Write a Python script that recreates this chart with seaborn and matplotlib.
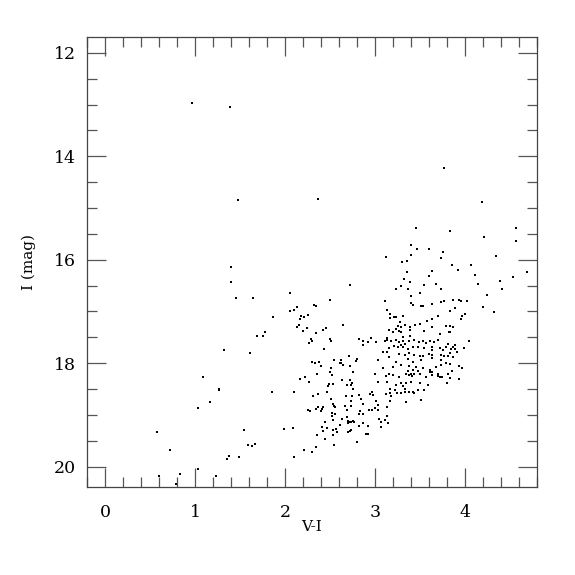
import numpy as np
import pandas as pd
import matplotlib
matplotlib.use('Agg')
import matplotlib.pyplot as plt
from matplotlib.ticker import MultipleLocator
import seaborn as sns

# %% Data: colour-magnitude points
# sparse stars (bright ones and the blue side)
sparse_vi = [0.96, 1.39, 1.48, 2.37, 1.40, 1.40, 1.46, 1.64, 1.87, 1.78, 1.69, 1.75,
             1.32, 1.61, 1.09, 1.26, 1.27, 1.85, 1.17, 1.03, 0.58, 1.54, 0.72, 1.59,
             1.63, 1.67, 1.35, 1.38, 1.49, 1.03, 0.60, 0.83, 1.23, 0.79]
sparse_i = [12.97, 13.05, 14.84, 14.83, 16.14, 16.43, 16.74, 16.74, 17.11, 17.40, 17.48, 17.48,
            17.75, 17.81, 18.27, 18.50, 18.52, 18.56, 18.76, 18.87, 19.34, 19.30, 19.68, 19.58,
            19.60, 19.56, 19.86, 19.79, 19.82, 20.04, 20.19, 20.15, 20.19, 20.33]

# middle clump, V-I ~ 2 - 3
mid_vi = [2.72, 2.06, 2.50, 2.13, 2.32, 2.34, 2.06, 2.10, 2.18, 2.21, 2.17, 2.25,
          2.15, 2.13, 2.24, 2.20, 2.64, 2.42, 2.46, 2.34, 2.29, 2.30, 2.27, 2.50,
          2.51, 2.43, 2.82, 2.87, 2.92, 2.87, 2.71, 2.62, 2.62, 2.54, 2.30, 2.33,
          2.38, 2.40, 2.80, 2.79, 2.61, 2.64, 2.72, 2.51, 2.36, 2.50, 2.52, 2.76,
          2.22, 2.17, 2.27, 2.63, 2.72, 2.75, 2.73, 2.69, 2.76, 2.49, 2.48, 2.53,
          2.10, 2.31, 2.37, 2.47, 2.68, 2.74, 2.82, 2.51, 2.84, 2.53, 2.54, 2.56,
          2.73, 2.73, 2.67, 2.87, 2.26, 2.28, 2.35, 2.37, 2.41, 2.40, 2.42, 2.69,
          2.93, 2.52, 2.52, 2.56, 2.83, 2.87, 2.82, 2.63, 2.53, 2.44, 2.69, 2.70,
          2.72, 2.70, 2.76, 2.77, 2.73, 2.61, 2.57, 2.53, 2.58, 2.53, 2.47, 2.41,
          2.42, 2.72, 2.70, 2.73, 2.82, 2.87, 2.92, 2.90, 2.36, 2.45, 1.99, 2.09,
          2.55, 2.80, 2.92, 2.35, 2.21, 2.30, 2.10]
mid_i = [16.49, 16.64, 16.77, 16.91, 16.87, 16.90, 16.99, 16.98, 17.09, 17.11, 17.15, 17.06,
         17.27, 17.31, 17.32, 17.38, 17.26, 17.35, 17.32, 17.42, 17.53, 17.57, 17.61, 17.53,
         17.57, 17.72, 17.53, 17.58, 17.60, 17.64, 17.86, 17.94, 17.99, 17.94, 17.97, 18.00,
         17.98, 18.05, 17.92, 17.96, 18.00, 18.04, 18.05, 18.09, 18.20, 18.18, 18.23, 18.17,
         18.27, 18.30, 18.37, 18.32, 18.32, 18.39, 18.43, 18.42, 18.49, 18.40, 18.45, 18.41,
         18.56, 18.63, 18.59, 18.56, 18.63, 18.63, 18.61, 18.69, 18.70, 18.79, 18.82, 18.85,
         18.74, 18.82, 18.83, 18.78, 18.91, 18.92, 18.89, 18.85, 18.88, 18.92, 18.85, 18.90,
         18.90, 18.97, 19.03, 18.98, 18.92, 18.99, 18.99, 19.07, 19.09, 19.14, 19.05, 19.11,
         19.14, 19.16, 19.11, 19.14, 19.14, 19.19, 19.27, 19.29, 19.34, 19.38, 19.25, 19.24,
         19.32, 19.32, 19.34, 19.29, 19.21, 19.16, 19.21, 19.37, 19.39, 19.46, 19.27, 19.25,
         19.59, 19.53, 19.36, 19.62, 19.68, 19.72, 19.82]

# red clump, V-I ~ 3 - 4.7 (upper part)
red_up_vi = [3.77, 4.19, 3.46, 3.84, 4.57, 4.21, 4.57, 3.40, 3.47, 3.60,
             4.35, 3.86, 4.07, 3.92, 4.11, 4.69, 4.54, 4.39, 4.15, 4.41, 4.25,
             3.87, 3.93, 3.96, 4.02, 4.20, 3.89, 3.84, 4.33, 4.00, 3.97, 3.96,
             3.84, 3.87, 3.83, 4.05, 3.89, 3.87, 3.85, 3.89, 3.99,
             3.83, 3.91, 3.87, 3.83, 3.93, 3.97, 3.86, 3.84, 3.94,
             3.12, 3.40, 3.30, 3.36, 3.76, 3.74, 3.63, 3.60, 3.36, 3.32, 3.39,
             3.29, 3.24, 3.37, 3.55, 3.68, 3.73, 3.50, 3.40, 3.11, 3.40, 3.42,
             3.63, 3.51, 3.53, 3.74, 3.77, 3.13, 3.17, 3.21, 3.23, 3.17, 3.31,
             3.70, 3.63, 3.58, 3.28, 3.50, 3.45, 3.26, 3.29, 3.24, 3.27, 3.29,
             3.16, 3.20, 3.34, 3.39, 3.39, 3.55, 3.64, 3.79, 3.82, 3.72, 2.96,
             3.14, 3.31, 3.39]
red_up_i = [14.22, 14.89, 15.39, 15.44, 15.39, 15.57, 15.64, 15.72, 15.79, 15.79,
            15.93, 16.10, 16.10, 16.20, 16.29, 16.24, 16.34, 16.41, 16.46, 16.56, 16.69,
            16.77, 16.77, 16.79, 16.79, 16.91, 16.93, 16.99, 17.01, 17.04, 17.08, 17.14,
            17.29, 17.31, 17.39, 17.57, 17.65, 17.69, 17.73, 17.73, 17.70,
            17.80, 17.79, 17.88, 18.02, 18.05, 18.10, 18.16, 18.28, 18.30,
            15.95, 15.90, 16.04, 16.02, 15.85, 15.97, 16.22, 16.31, 16.24, 16.38, 16.44,
            16.51, 16.57, 16.57, 16.48, 16.47, 16.57, 16.65, 16.71, 16.80, 16.84, 16.88,
            16.86, 16.90, 16.90, 16.82, 16.79, 16.97, 17.04, 17.10, 17.11, 17.13, 17.09,
            17.09, 17.14, 17.19, 17.21, 17.24, 17.27, 17.28, 17.31, 17.34, 17.37, 17.40,
            17.36, 17.39, 17.27, 17.31, 17.36, 17.37, 17.31, 17.29, 17.39, 17.44, 17.52,
            17.52, 17.50, 17.47]

# red clump, dense lower part
red_lo_vi = [3.01, 3.11, 3.14, 3.18, 3.24, 3.27, 3.31, 3.34, 3.38, 3.44, 3.49, 3.53,
             3.57, 3.61, 3.66, 3.70, 3.81,
             3.16, 3.21, 3.26, 3.29, 3.31, 3.37, 3.42, 3.48, 3.55, 3.63, 3.64, 3.72,
             3.76, 3.79, 3.09, 3.13,
             3.27, 3.33, 3.38, 3.44, 3.50, 3.53, 3.60, 3.64, 3.74, 3.77, 3.81, 3.03,
             3.16, 3.24, 3.37, 3.42, 3.51, 3.63, 3.73,
             3.09, 3.20, 3.29, 3.38, 3.46, 3.53, 3.61, 3.68, 3.74, 3.79, 3.37, 3.42,
             3.48, 3.16, 3.61, 3.64, 3.70, 3.72, 3.81,
             3.00, 3.12, 3.20, 3.27, 3.35, 3.38, 3.40, 3.41, 3.44, 3.50, 3.57, 3.63,
             3.70, 3.75, 3.03, 3.14, 3.24, 3.29, 3.35, 3.40, 3.50, 3.59, 3.80,
             3.17, 3.22, 3.31, 3.33, 3.34, 3.38, 3.42, 3.48, 3.55, 2.97, 2.98, 2.95,
             3.12, 3.17, 3.18, 3.25, 3.29, 3.44, 3.17, 3.51, 3.35, 3.01, 3.03,
             3.00, 3.03, 2.97, 3.14, 3.13, 3.05, 3.11, 3.07, 3.15, 3.07]
red_lo_i = [17.60, 17.57, 17.55, 17.58, 17.56, 17.60, 17.57, 17.63, 17.58, 17.56, 17.60, 17.57,
            17.61, 17.58, 17.60, 17.56, 17.63,
            17.71, 17.67, 17.68, 17.65, 17.69, 17.73, 17.69, 17.68, 17.71, 17.68, 17.74, 17.71,
            17.74, 17.69, 17.79, 17.79,
            17.82, 17.84, 17.81, 17.84, 17.87, 17.86, 17.82, 17.84, 17.84, 17.87, 17.86, 17.94,
            17.89, 17.97, 17.92, 17.97, 17.94, 17.90, 17.94,
            18.10, 18.08, 18.03, 18.05, 18.07, 18.10, 18.13, 18.08, 18.03, 18.00, 18.16, 18.14,
            18.16, 18.20, 18.18, 18.17, 18.21, 18.26, 18.20,
            18.21, 18.25, 18.23, 18.26, 18.21, 18.23, 18.20, 18.25, 18.21, 18.20, 18.26, 18.23,
            18.25, 18.27, 18.36, 18.36, 18.42, 18.38, 18.38, 18.36, 18.38, 18.42, 18.38,
            18.49, 18.52, 18.45, 18.50, 18.55, 18.55, 18.55, 18.52, 18.52, 18.55, 18.61, 18.60,
            18.60, 18.58, 18.63, 18.58, 18.57, 18.57, 18.74, 18.71, 18.76, 18.74, 18.81,
            18.87, 18.90, 18.90, 18.84, 19.02, 19.07, 19.09, 19.13, 19.16, 19.24]

cmd = pd.DataFrame({'vi': sparse_vi + mid_vi + red_up_vi + red_lo_vi,
                    'imag': sparse_i + mid_i + red_up_i + red_lo_i})

# %% Plot
sns.set_style('ticks')
plt.rcParams['font.family'] = ['DejaVu Serif']
plt.rcParams['text.color'] = 'black'
plt.rcParams['axes.labelcolor'] = 'black'

fig = plt.figure(figsize=(5.75, 5.75), dpi=100)
ax = fig.add_axes([0.1518, 0.1525, 0.7816, 0.7826])

sns.scatterplot(data=cmd, x='vi', y='imag', ax=ax, marker='s', s=4,
                color='black', linewidth=0, legend=False)

ax.set_xlim(-0.2, 4.8)
ax.set_ylim(20.4, 11.7)

ax.xaxis.set_major_locator(MultipleLocator(1))
ax.xaxis.set_minor_locator(MultipleLocator(0.2))
ax.yaxis.set_major_locator(MultipleLocator(2))
ax.yaxis.set_minor_locator(MultipleLocator(0.5))

ax.tick_params(which='both', direction='in', top=True, right=True,
               color='#555555', width=0.9, labelcolor='black')
ax.tick_params(which='major', length=14)
ax.tick_params(which='minor', length=7)
ax.tick_params(axis='x', which='major', pad=12, labelsize=12.5)
ax.tick_params(axis='y', which='major', pad=8, labelsize=12.5)

for sp in ax.spines.values():
    sp.set_color('#444444')
    sp.set_linewidth(0.9)

ax.set_xlabel('V-I', fontsize=11)
ax.set_ylabel('I (mag)', fontsize=11)
ax.xaxis.set_label_coords(0.5, -0.072)
ax.yaxis.set_label_coords(-0.115, 0.5)

fig.savefig('out.png', dpi=100)
